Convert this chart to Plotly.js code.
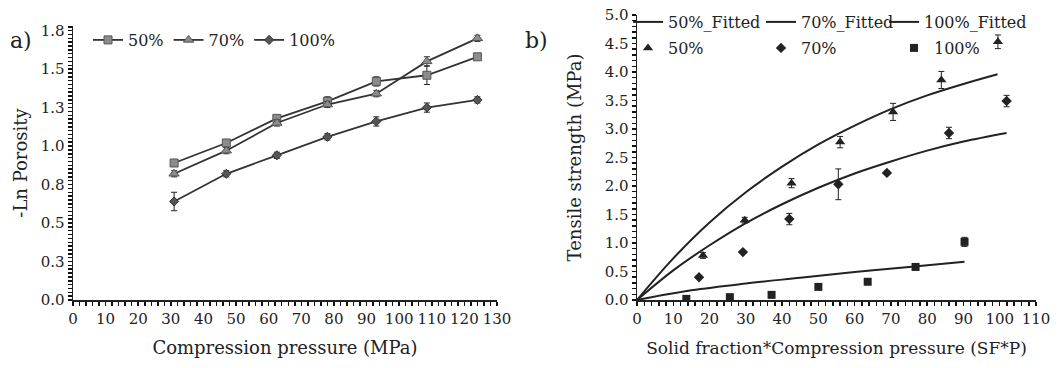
<!DOCTYPE html>
<html>
<head>
<meta charset="utf-8">
<script src="https://cdn.plot.ly/plotly-3.0.1.min.js"></script>
<style>html,body{margin:0;padding:0;background:#fff;}#chart{width:1064px;height:368px;}</style>
</head>
<body>
<div id="chart"></div>
<script>
// ---- Panel a) : -Ln Porosity vs compression pressure ----
const pressure = [31, 47, 62.5, 78, 93, 108.5, 124];
const porosity50 = [0.89, 1.02, 1.18, 1.29, 1.42, 1.46, 1.58];
const porosity50Err = [0.02, 0.02, 0.02, 0.03, 0.03, 0.06, 0.02];
const porosity70 = [0.82, 0.97, 1.15, 1.27, 1.34, 1.55, 1.70];
const porosity70Err = [0.02, 0.02, 0.02, 0.02, 0.02, 0.03, 0.02];
const porosity100 = [0.64, 0.82, 0.94, 1.06, 1.16, 1.25, 1.30];
const porosity100Err = [0.06, 0.02, 0.02, 0.02, 0.03, 0.03, 0.02];
const aYLabelVals = [0, 0.25, 0.5, 0.75, 1.0, 1.25, 1.5, 1.75];
const aYLabelText = ['0.0', '0.3', '0.5', '0.8', '1.0', '1.3', '1.5', '1.8'];

// ---- Panel b) : tensile strength vs SF*P ----
const sfp50 = [18.2, 29.7, 42.6, 56.0, 70.6, 83.9, 99.5];
const ts50 = [0.78, 1.40, 2.05, 2.77, 3.30, 3.86, 4.53];
const ts50Err = [0.05, 0.05, 0.08, 0.10, 0.15, 0.15, 0.12];
const sfp70 = [17.1, 29.2, 42.0, 55.5, 68.9, 86.0, 101.9];
const ts70 = [0.40, 0.84, 1.42, 2.03, 2.23, 2.93, 3.49];
const ts70Err = [0.0, 0.0, 0.10, 0.27, 0.03, 0.10, 0.10];
const sfp100 = [13.6, 25.6, 37.1, 50.0, 63.6, 76.8, 90.3];
const ts100 = [0.02, 0.05, 0.09, 0.23, 0.32, 0.58, 1.02];
const ts100Err = [0.02, 0.02, 0.03, 0.02, 0.02, 0.02, 0.08];

const fitX50 = [0, 10, 20, 30, 40, 50, 60, 70, 80, 90, 99.4];
const fitY50 = [0, 0.73, 1.36, 1.89, 2.34, 2.73, 3.06, 3.35, 3.59, 3.79, 3.96];
const fitX70 = [0, 10, 20, 30, 40, 50, 60, 70, 80, 90, 101.9];
const fitY70 = [0, 0.52, 0.96, 1.35, 1.68, 1.97, 2.22, 2.43, 2.62, 2.78, 2.93];
const fitX100 = [0, 15, 30, 45, 60, 75, 90.3];
const fitY100 = [0, 0.17, 0.29, 0.39, 0.49, 0.58, 0.67];

const ink = '#222';
const font = 'DejaVu Serif, Liberation Serif, serif';

function eb(arr, w) {
  return {type: 'data', array: arr, visible: true, color: ink, thickness: 1, width: w};
}

// Tick grids: a small tick every `step`, with a label only where one is printed.
function tickGrid(maxVal, step, labelVals, labelText) {
  const vals = [], text = [];
  const n = Math.round(maxVal / step);
  for (let i = 0; i <= n; i++) {
    const v = Math.round(i * step * 1000) / 1000;
    vals.push(v);
    const k = labelVals.findIndex(l => Math.abs(l - v) < 1e-6);
    text.push(k >= 0 ? labelText[k] : '');
  }
  return {tickvals: vals, ticktext: text};
}
const aXLabels = [0, 10, 20, 30, 40, 50, 60, 70, 80, 90, 100, 110, 120, 130];
const bXLabels = [0, 10, 20, 30, 40, 50, 60, 70, 80, 90, 100, 110];
const bYLabels = [0, 0.5, 1.0, 1.5, 2.0, 2.5, 3.0, 3.5, 4.0, 4.5, 5.0];

const aX = tickGrid(130, 2, aXLabels, aXLabels.map(String));
const aY = tickGrid(1.775, 0.025, aYLabelVals, aYLabelText);
const bX = tickGrid(110, 2, bXLabels, bXLabels.map(String));
const bY = tickGrid(5.0, 0.1, bYLabels, bYLabels.map(v => v.toFixed(1)));

const traces = [
  // panel a
  {x: pressure, y: porosity50, error_y: eb(porosity50Err, 3), name: '50%', mode: 'lines+markers',
   line: {color: '#333', width: 1.8}, marker: {symbol: 'square', size: 8, color: '#8c8c8c', line: {color: '#555', width: 1}},
   xaxis: 'x', yaxis: 'y', legend: 'legend3'},
  {x: pressure, y: porosity70, error_y: eb(porosity70Err, 3), name: '70%', mode: 'lines+markers',
   line: {color: '#333', width: 1.8}, marker: {symbol: 'triangle-up', size: 9, color: '#8c8c8c', line: {color: '#555', width: 1}},
   xaxis: 'x', yaxis: 'y', legend: 'legend3'},
  {x: pressure, y: porosity100, error_y: eb(porosity100Err, 3), name: '100%', mode: 'lines+markers',
   line: {color: '#333', width: 1.8}, marker: {symbol: 'diamond', size: 7, color: '#555', line: {color: '#333', width: 1}},
   xaxis: 'x', yaxis: 'y', legend: 'legend3'},
  // panel b fitted curves
  {x: fitX50, y: fitY50, name: '50%_Fitted', mode: 'lines', line: {color: ink, width: 2, shape: 'spline'},
   xaxis: 'x2', yaxis: 'y2', legend: 'legend'},
  {x: fitX70, y: fitY70, name: '70%_Fitted', mode: 'lines', line: {color: ink, width: 2, shape: 'spline'},
   xaxis: 'x2', yaxis: 'y2', legend: 'legend'},
  {x: fitX100, y: fitY100, name: '100%_Fitted', mode: 'lines', line: {color: ink, width: 2, shape: 'spline'},
   xaxis: 'x2', yaxis: 'y2', legend: 'legend4'},
  // panel b measured points
  {x: sfp50, y: ts50, error_y: eb(ts50Err, 3), name: '50%', mode: 'markers',
   marker: {symbol: 'triangle-up', size: 9, color: ink}, xaxis: 'x2', yaxis: 'y2', legend: 'legend2'},
  {x: sfp70, y: ts70, error_y: eb(ts70Err, 3), name: '70%', mode: 'markers',
   marker: {symbol: 'diamond', size: 8, color: ink}, xaxis: 'x2', yaxis: 'y2', legend: 'legend2'},
  {x: sfp100, y: ts100, error_y: eb(ts100Err, 3), name: '100%', mode: 'markers',
   marker: {symbol: 'square', size: 8, color: ink}, xaxis: 'x2', yaxis: 'y2', legend: 'legend2'}
];

const W = 1064, H = 368;
function px(x) { return x / W; }
function py(y) { return (H - y) / H; }

const axisBase = {
  showline: true, linecolor: ink, linewidth: 1.5, showgrid: false, zeroline: false,
  ticks: 'outside', ticklen: 4, tickcolor: '#111', tickwidth: 1.5, tickmode: 'array',
  tickfont: {family: font, size: 15, color: ink}
};

const legendBase = {orientation: 'h', xanchor: 'left', yanchor: 'middle', bgcolor: 'rgba(0,0,0,0)',
  font: {family: font, size: 16, color: ink}, tracegroupgap: 0};

const layout = {
  width: W, height: H,
  margin: {l: 0, r: 0, t: 0, b: 0},
  paper_bgcolor: '#fff', plot_bgcolor: '#fff',
  font: {family: font, color: ink},
  showlegend: true,
  xaxis: Object.assign({}, axisBase, aX, {
    domain: [px(73), px(497)], range: [0, 130], anchor: 'y',
    title: {text: 'Compression pressure (MPa)', font: {family: font, size: 18, color: ink}, standoff: 15}
  }),
  yaxis: Object.assign({}, axisBase, aY, {
    domain: [py(300), py(26)], range: [0, 1.78], anchor: 'x',
    title: {text: '-Ln Porosity', font: {family: font, size: 18, color: ink}, standoff: 8}
  }),
  xaxis2: Object.assign({}, axisBase, bX, {
    domain: [px(637), px(1036)], range: [0, 110], anchor: 'y2',
    title: {text: 'Solid fraction*Compression pressure (SF*P)', font: {family: font, size: 17, color: ink}, standoff: 15}
  }),
  yaxis2: Object.assign({}, axisBase, bY, {
    domain: [py(300), py(15)], range: [0, 5.0], anchor: 'x2',
    title: {text: 'Tensile strength (MPa)', font: {family: font, size: 18, color: ink}, standoff: 18}
  }),
  legend: Object.assign({}, legendBase, {x: px(628), y: py(22), entrywidth: 88}),
  legend4: Object.assign({}, legendBase, {x: px(884), y: py(22)}),
  legend2: Object.assign({}, legendBase, {x: px(628), y: py(48), entrywidth: 88}),
  legend3: Object.assign({}, legendBase, {x: px(88), y: py(40)}),
  annotations: [
    {text: 'a)', x: px(21), y: py(40), xref: 'paper', yref: 'paper', xanchor: 'center', yanchor: 'middle', showarrow: false,
     font: {family: font, size: 22, color: ink}},
    {text: 'b)', x: px(536), y: py(40), xref: 'paper', yref: 'paper', xanchor: 'center', yanchor: 'middle', showarrow: false,
     font: {family: font, size: 22, color: ink}}
  ]
};

Plotly.newPlot('chart', traces, layout, {displayModeBar: false, staticPlot: true});
</script>
</body>
</html>
